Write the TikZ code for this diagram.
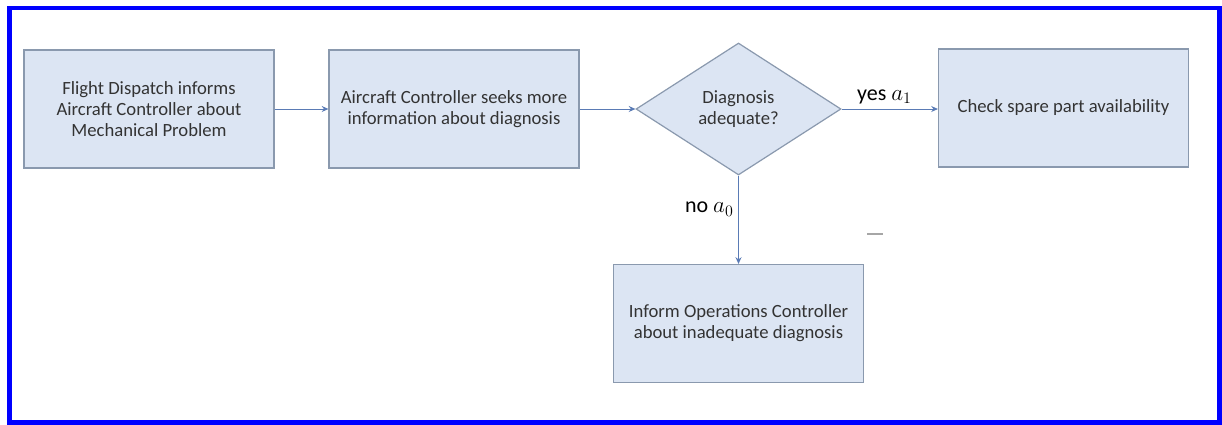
\documentclass[tikz,border=0pt]{standalone}
\usepackage{fontspec}
\setmainfont{Carlito}
\usepackage{xcolor}
\usetikzlibrary{arrows.meta, shapes.geometric}
\definecolor{boxfill}{HTML}{DCE5F3}
\definecolor{boxline}{HTML}{8A99AE}
\definecolor{flowline}{HTML}{5A7BB5}
\definecolor{txtgray}{HTML}{333333}
\definecolor{frameblue}{HTML}{0000FF}

\begin{document}
\begin{tikzpicture}[x=0.75pt, y=-0.75pt, >={Stealth[length=5pt,width=4.5pt]},
    procbox/.style={draw=boxline, fill=boxfill, line width=0.9pt, minimum width=187.5pt, minimum height=88.5pt, align=center, text=txtgray, font=\fontsize{14}{15.75}\selectfont},
    decbox/.style={diamond, draw=boxline, fill=boxfill, line width=0.9pt, inner sep=0pt, minimum width=153.75pt, minimum height=99pt, align=center, text=txtgray, font=\fontsize{14}{15.75}\selectfont},
    flow/.style={->, draw=flowline, line width=0.75pt},
    branch/.style={font=\fontsize{16.5}{18}\selectfont, text=black}]
            \useasboundingbox (0,0) rectangle (1222,425);
            \draw[frameblue, line width=3.5pt] (9.5,8) rectangle (1219.5,422.5);

            \node[procbox] (dispatch) at (149,109) {Flight Dispatch informs\\ Aircraft Controller about\\ Mechanical Problem};
            \node[procbox] (seek) at (454,109) {Aircraft Controller seeks more\\ information about diagnosis};
            \node[decbox] (adequate) at (738.5,109) {Diagnosis\\ adequate?};
            \node[procbox] (spare) at (1063.5,108) {Check spare part availability};
            \node[procbox] (inform) at (738.5,323.5) {Inform Operations Controller\\ about inadequate diagnosis};

            \draw[flow] (dispatch) -- (seek);
            \draw[flow] (seek) -- (adequate);
            \draw[flow] (adequate) -- node[branch, above, xshift=-4pt] {yes $a_1$} (spare.west |- adequate.east);
            \draw[flow] (adequate) -- node[branch, left, pos=0.38] {no $a_0$} (inform);

            \draw[gray!70, line width=1.1pt] (867,234) -- (883,234);
        \end{tikzpicture}
\end{document}
